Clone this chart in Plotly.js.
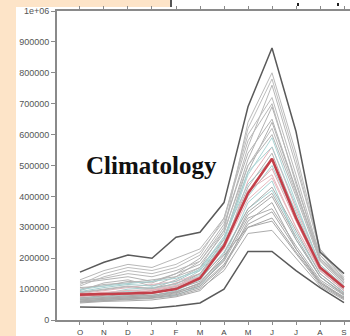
<!DOCTYPE html>
<html>
<head>
<meta charset="utf-8">
<script src="https://cdn.plot.ly/plotly-3.0.1.min.js"></script>
<style>
  html, body { margin: 0; padding: 0; width: 350px; height: 336px; overflow: hidden; background: #FDE4C8; }
  #panel { position: absolute; left: 16px; top: 7px; width: 334px; height: 329px; background: #ffffff; }
  #panel2 { position: absolute; left: 172px; top: 0px; width: 178px; height: 7px; background: #ffffff; }
  #bar { position: absolute; left: 170px; top: 0px; width: 2px; height: 7px; background: #555555; }
  .dot { position: absolute; top: 3px; width: 2px; height: 3px; background: #222222; }
  #chart { position: absolute; left: 0; top: 0; width: 350px; height: 336px; }
</style>
</head>
<body>
<div id="panel"></div>
<div id="panel2"></div>
<div id="bar"></div>
<div class="dot" style="left:297px"></div>
<div class="dot" style="left:337px"></div>
<div id="chart"></div>
<script>
// Months of the water year (Oct - Sep)
const months = ["O", "N", "D", "J", "F", "M", "A", "M", "J", "J", "A", "S"];

// Y tick values and labels
const yTickVals = [0, 100000, 200000, 300000, 400000, 500000, 600000, 700000, 800000, 900000, 1000000];
const yTickText = ["0", "100000", "200000", "300000", "400000", "500000", "600000", "700000", "800000", "900000", "1e+06"];

// Individual years (monthly flow)
const y01 = [70000, 80000, 95000, 90000, 110000, 150000, 260000, 480000, 640000, 420000, 200000, 120000];
const y02 = [60000, 65000, 70000, 72000, 80000, 110000, 200000, 380000, 450000, 260000, 140000, 80000];
const y03 = [95000, 120000, 130000, 110000, 140000, 190000, 300000, 560000, 760000, 500000, 230000, 130000];
const y04 = [55000, 60000, 62000, 65000, 75000, 95000, 170000, 320000, 380000, 230000, 120000, 75000];
const y05 = [110000, 140000, 160000, 150000, 170000, 210000, 330000, 600000, 720000, 470000, 210000, 125000];
const y06 = [80000, 90000, 85000, 95000, 120000, 140000, 230000, 450000, 560000, 360000, 180000, 110000];
const y07 = [65000, 70000, 75000, 80000, 90000, 120000, 210000, 300000, 330000, 220000, 120000, 70000];
const y08 = [120000, 130000, 140000, 125000, 150000, 180000, 280000, 520000, 690000, 450000, 200000, 130000];
const y09 = [75000, 85000, 100000, 105000, 115000, 160000, 250000, 400000, 500000, 330000, 170000, 100000];
const y10 = [90000, 100000, 110000, 100000, 130000, 170000, 290000, 640000, 800000, 540000, 230000, 140000];
const y11 = [58000, 62000, 66000, 70000, 78000, 100000, 160000, 280000, 290000, 200000, 110000, 65000];
const y12 = [100000, 115000, 120000, 130000, 140000, 170000, 260000, 500000, 600000, 400000, 190000, 115000];
const y13 = [85000, 95000, 105000, 115000, 125000, 150000, 240000, 420000, 470000, 300000, 160000, 95000];
const y14 = [70000, 75000, 80000, 78000, 95000, 130000, 220000, 360000, 420000, 280000, 150000, 90000];
const y15 = [130000, 160000, 180000, 170000, 200000, 230000, 330000, 580000, 700000, 440000, 210000, 135000];
const y16 = [60000, 68000, 72000, 75000, 85000, 115000, 190000, 330000, 360000, 240000, 130000, 80000];
const y17 = [78000, 88000, 92000, 100000, 110000, 145000, 250000, 470000, 590000, 380000, 175000, 105000];
const y18 = [105000, 110000, 125000, 120000, 150000, 200000, 310000, 540000, 650000, 420000, 195000, 120000];
const y19 = [68000, 72000, 78000, 85000, 100000, 125000, 200000, 340000, 400000, 260000, 140000, 85000];
const y20 = [92000, 105000, 115000, 110000, 125000, 165000, 270000, 440000, 520000, 350000, 170000, 100000];
const y21 = [62000, 66000, 70000, 76000, 88000, 110000, 180000, 310000, 350000, 230000, 125000, 72000];
const y22 = [115000, 150000, 170000, 160000, 180000, 220000, 320000, 620000, 780000, 520000, 220000, 135000];
const y23 = [82000, 90000, 96000, 98000, 112000, 140000, 230000, 390000, 460000, 300000, 160000, 95000];
const y24 = [72000, 78000, 84000, 88000, 105000, 135000, 215000, 360000, 430000, 290000, 150000, 88000];
const y25 = [98000, 110000, 118000, 125000, 135000, 160000, 265000, 480000, 560000, 370000, 180000, 110000];
const y26 = [88000, 98000, 108000, 102000, 118000, 150000, 245000, 430000, 540000, 340000, 165000, 100000];
const y27 = [66000, 70000, 74000, 80000, 92000, 118000, 195000, 350000, 410000, 270000, 140000, 82000];
const y28 = [76000, 82000, 90000, 95000, 108000, 140000, 235000, 410000, 490000, 320000, 160000, 95000];
const y29 = [125000, 135000, 150000, 140000, 160000, 190000, 290000, 500000, 620000, 410000, 200000, 125000];
const y30 = [58000, 64000, 68000, 72000, 82000, 105000, 175000, 300000, 320000, 215000, 115000, 68000];

const years = [y01, y02, y03, y04, y05, y06, y07, y08, y09, y10, y11, y12, y13, y14, y15,
               y16, y17, y18, y19, y20, y21, y22, y23, y24, y25, y26, y27, y28, y29, y30];
const yearColors = ["#b0b0b0", "#a6d4d4", "#b8b8b8", "#a8a8a8", "#bcbcbc", "#e6b0b8", "#a4a4a4", "#b2b2b2",
                    "#a6cfcf", "#bababa", "#acacac", "#b5b5b5", "#e3b6bd", "#a3d0d0", "#b8b8b8",
                    "#aeaeae", "#acd6d6", "#b3b3b3", "#aaaaaa", "#a4cdcd", "#a8a8a8", "#bebebe", "#e8babf",
                    "#adadad", "#a8d1d1", "#b6b6b6", "#ababab", "#dfabb2", "#b9b9b9", "#a6a6a6"];

// Envelope years (darker lines)
const maxYear = [155000, 187000, 210000, 200000, 268000, 284000, 380000, 690000, 880000, 610000, 220000, 150000];
const minYear = [42000, 42000, 40000, 38000, 45000, 55000, 100000, 222000, 222000, 160000, 105000, 56000];

// Climatological mean
const meanFlow = [82000, 85000, 86000, 88000, 100000, 135000, 240000, 410000, 522000, 330000, 170000, 105000];

const xIdx = months.map((m, i) => i);

const traces = [];
years.forEach((yv, k) => {
  traces.push({ x: xIdx, y: yv, type: "scatter", mode: "lines",
    line: { color: yearColors[k], width: 1 }, hoverinfo: "skip", showlegend: false });
});
traces.push({ x: xIdx, y: maxYear, type: "scatter", mode: "lines",
  line: { color: "#5a5a5a", width: 1.5 }, showlegend: false });
traces.push({ x: xIdx, y: minYear, type: "scatter", mode: "lines",
  line: { color: "#5a5a5a", width: 1.5 }, showlegend: false });
traces.push({ x: xIdx, y: meanFlow, type: "scatter", mode: "lines",
  line: { color: "#c4404a", width: 2.6 }, showlegend: false });

const layout = {
  width: 350, height: 336,
  margin: { l: 57, r: 0, t: 11, b: 16, pad: 0 },
  paper_bgcolor: "rgba(0,0,0,0)",
  plot_bgcolor: "rgba(0,0,0,0)",
  showlegend: false,
  xaxis: {
    range: [-0.958, 11.25],
    tickvals: xIdx, ticktext: months,
    showgrid: false, zeroline: false,
    showline: true, linecolor: "#8a8a8a", linewidth: 2,
    mirror: "ticks", ticks: "outside", ticklen: 3, tickcolor: "#8a8a8a",
    tickfont: { family: "Liberation Sans", size: 8, color: "#444444" }
  },
  yaxis: {
    range: [0, 1000000],
    tickvals: yTickVals, ticktext: yTickText,
    showgrid: false, zeroline: false,
    showline: true, linecolor: "#8a8a8a", linewidth: 2,
    ticks: "outside", ticklen: 4, tickcolor: "#8a8a8a",
    tickfont: { family: "Liberation Sans", size: 9, color: "#555555" }
  },
  annotations: [{
    xref: "x", yref: "y", x: 3.0, y: 500000,
    text: "<b>Climatology</b>", showarrow: false,
    font: { family: "Liberation Serif", size: 25, color: "#111111" }
  }]
};

Plotly.newPlot("chart", traces, layout, { staticPlot: true, displayModeBar: false });
</script>
</body>
</html>
